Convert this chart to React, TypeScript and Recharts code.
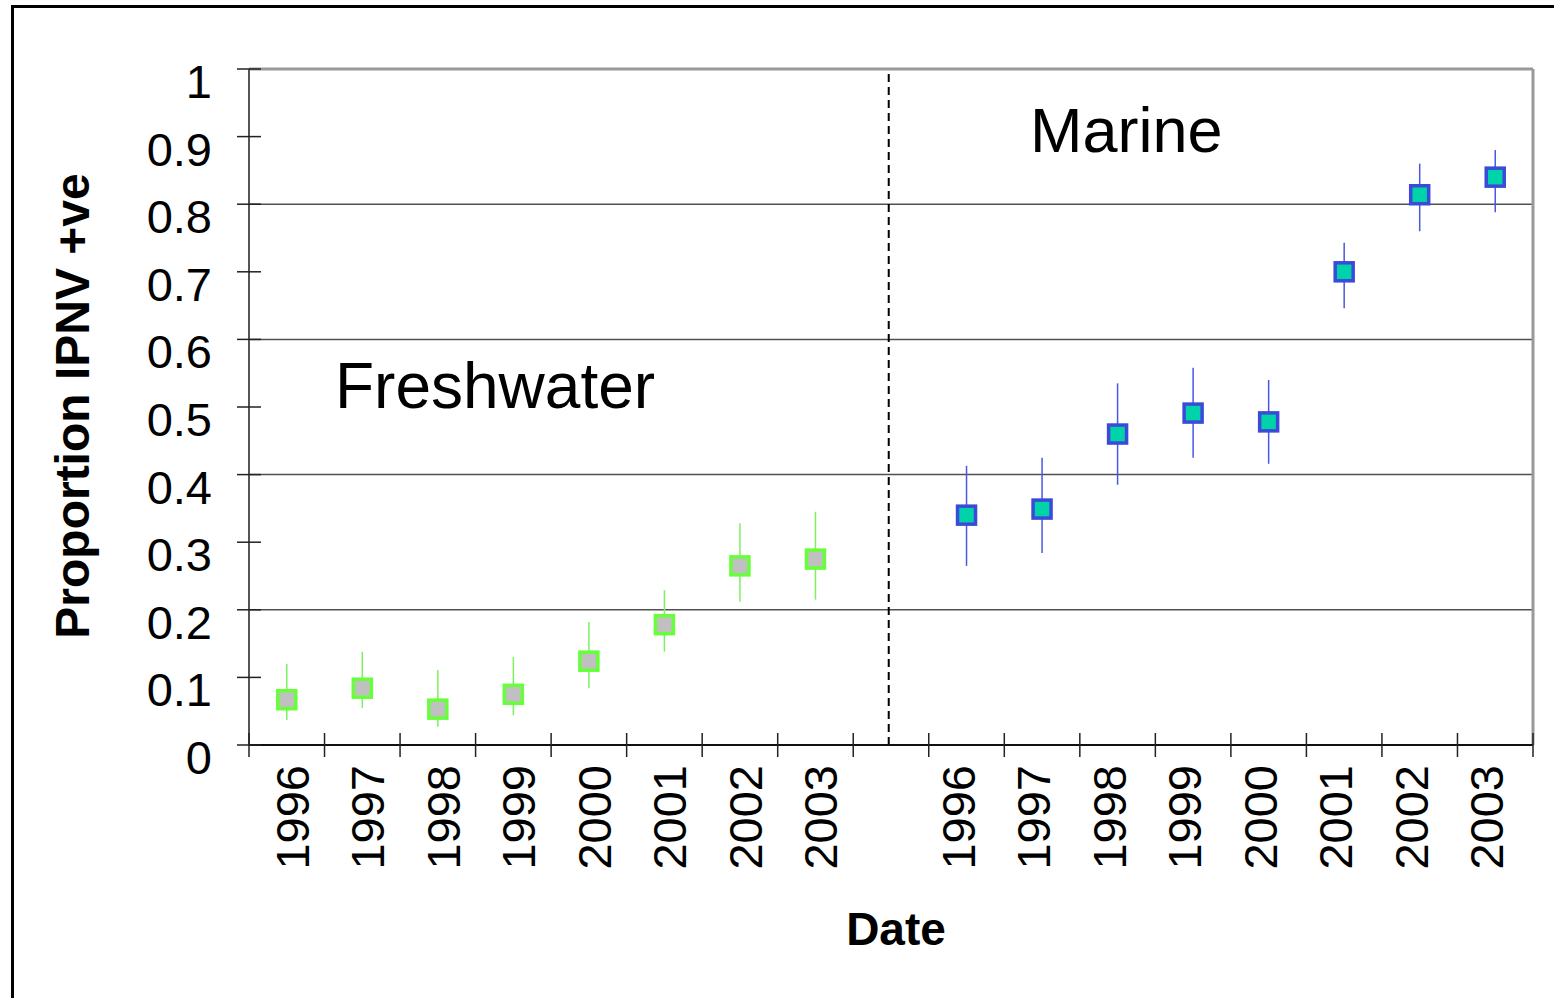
import React from "react";
import {
  ComposedChart,
  Scatter,
  ErrorBar,
  XAxis,
  YAxis,
  ReferenceLine,
} from "recharts";

const freshYears = ["1996", "1997", "1998", "1999", "2000", "2001", "2002", "2003"];
const freshValues = [0.067, 0.084, 0.053, 0.075, 0.124, 0.178, 0.265, 0.275];
const freshLow = [0.037, 0.055, 0.027, 0.044, 0.084, 0.138, 0.212, 0.215];
const freshHigh = [0.12, 0.138, 0.111, 0.13, 0.182, 0.229, 0.328, 0.345];

const marineYears = ["1996", "1997", "1998", "1999", "2000", "2001", "2002", "2003"];
const marineValues = [0.34, 0.349, 0.46, 0.491, 0.478, 0.7, 0.814, 0.84];
const marineLow = [0.265, 0.284, 0.385, 0.425, 0.416, 0.646, 0.76, 0.788];
const marineHigh = [0.413, 0.425, 0.535, 0.558, 0.54, 0.743, 0.86, 0.88];

// one empty slot between the two groups
const categories = [...freshYears, "", ...marineYears];
const xTicks = categories.map((_, i) => i).concat(categories.length);
const yTicks = [0, 0.1, 0.2, 0.3, 0.4, 0.5, 0.6, 0.7, 0.8, 0.9, 1];
const gridValues = [0.2, 0.4, 0.6, 0.8];

const freshData = freshValues.map((v, i) => ({
  x: i + 0.5,
  y: v,
  err: [v - freshLow[i], freshHigh[i] - v],
}));
const marineData = marineValues.map((v, i) => ({
  x: freshYears.length + 1 + i + 0.5,
  y: v,
  err: [v - marineLow[i], marineHigh[i] - v],
}));

const FONT = "'Liberation Sans', Arial, sans-serif";
const PLOT_W = 1284;
const BAND = PLOT_W / categories.length;

const XTick = (props: any) => {
  const { x, y, payload } = props;
  const i = payload.value as number;
  const label = categories[i];
  const dx = i < freshYears.length ? 5 : -9;
  return (
    <g>
      <line x1={x} x2={x} y1={y - 12} y2={y + 12} stroke="#222" strokeWidth={1.5} />
      {label ? (
        <text
          transform={`translate(${x + BAND / 2 + dx + 17}, ${y + 20}) rotate(-90)`}
          textAnchor="end"
          fontSize={47}
          fontFamily={FONT}
          fill="#000"
        >
          {label}
        </text>
      ) : null}
    </g>
  );
};

const YTick = (props: any) => {
  const { x, y, payload } = props;
  return (
    <g>
      <line x1={x - 12} x2={x + 12} y1={y} y2={y} stroke="#222" strokeWidth={1.5} />
      <text
        x={x - 37}
        y={y + 29}
        textAnchor="end"
        fontSize={47}
        fontFamily={FONT}
        fill="#000"
      >
        {String(payload.value)}
      </text>
    </g>
  );
};

const square = (fill: string, stroke: string) => (props: any) => {
  const { cx, cy } = props;
  return (
    <rect x={cx - 9} y={cy - 9} width={18} height={18} fill={fill} stroke={stroke} strokeWidth={3.5} />
  );
};

export default function App() {
  return (
    <div style={{ position: "relative", width: 1545, height: 985 }}>
      <div
        style={{
          position: "fixed",
          left: 11,
          top: 5,
          width: 1540,
          height: 990,
          borderTop: "3px solid #000",
          borderLeft: "3px solid #000",
          zIndex: 5,
          pointerEvents: "none",
        }}
      />
      <svg
        style={{ position: "absolute", left: -8, top: -8 }}
        width={1558}
        height={993}
      >
        <text
          transform="translate(89, 406) rotate(-90)"
          textAnchor="middle"
          fontSize={48}
          fontWeight="bold"
          fontFamily={FONT}
        >
          Proportion IPNV +ve
        </text>
        <text x={896} y={945} textAnchor="middle" fontSize={46} fontWeight="bold" fontFamily={FONT}>
          Date
        </text>
        <text x={335} y={408} fontSize={64} fontFamily={FONT}>
          Freshwater
        </text>
        <text x={1030} y={152} fontSize={63} fontFamily={FONT}>
          Marine
        </text>
      </svg>
      <ComposedChart
        width={1545}
        height={985}
        margin={{ top: 61, right: 20, left: 41, bottom: 118 }}
        style={{ position: "absolute", left: 0, top: 0 }}
      >
        <XAxis
          type="number"
          dataKey="x"
          domain={[0, categories.length]}
          ticks={xTicks}
          interval={0}
          tickSize={0}
          tickMargin={0}
          tickLine={false}
          height={130}
          axisLine={{ stroke: "#111", strokeWidth: 2 }}
          tick={(p: any) => <XTick {...p} />}
        />
        <YAxis
          type="number"
          dataKey="y"
          domain={[0, 1]}
          ticks={yTicks}
          interval={0}
          width={200}
          tickSize={0}
          tickMargin={0}
          tickLine={false}
          axisLine={{ stroke: "#555", strokeWidth: 2 }}
          tick={(p: any) => <YTick {...p} />}
        />
        {gridValues.map((g) => (
          <ReferenceLine key={g} y={g} stroke="#505050" strokeWidth={1.5} />
        ))}
        <ReferenceLine y={1} stroke="#999" strokeWidth={3} />
        <ReferenceLine x={categories.length} stroke="#999" strokeWidth={3} />
        <ReferenceLine
          x={freshYears.length + 0.47}
          stroke="#000"
          strokeWidth={2}
          strokeDasharray="8 5"
        />
        <Scatter
          data={freshData}
          isAnimationActive={false}
          shape={square("#c0c0c0", "#66ff3a")}
        >
          <ErrorBar dataKey="err" direction="y" width={0} stroke="#7cf060" strokeWidth={1.5} />
        </Scatter>
        <Scatter
          data={marineData}
          isAnimationActive={false}
          shape={square("#00d2aa", "#3b4ad8")}
        >
          <ErrorBar dataKey="err" direction="y" width={0} stroke="#4a58e0" strokeWidth={1.5} />
        </Scatter>
      </ComposedChart>
    </div>
  );
}
